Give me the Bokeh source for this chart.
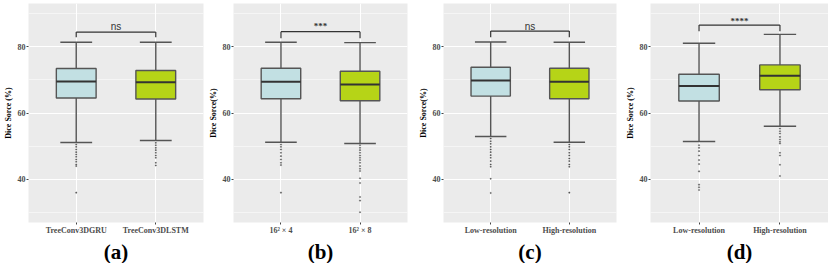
from bokeh.plotting import figure
from bokeh.layouts import row
from bokeh.models import Range1d, FixedTicker, Title
from bokeh.core.properties import value
from bokeh.embed import file_html
from bokeh.resources import INLINE

# ---------------- data ----------------
panel_labels = ["(a)", "(b)", "(c)", "(d)"]
y_titles = ["Dice Sorce (%)", "Dice Sorce(%)", "Dice Sorce(%)", "Dice Sorce (%)"]
cats_a = ["TreeConv3DGRU", "TreeConv3DLSTM"]
cats_b = ["16\u00b2 \u00d7 4", "16\u00b2 \u00d7 8"]
cats_c = ["Low-resolution", "High-resolution"]
cats_d = ["Low-resolution", "High-resolution"]
signif = ["ns", "***", "ns", "****"]

# box stats per panel: [lower whisker, q1, median, q3, upper whisker] for the two groups
stats_a = [[51.1, 64.5, 69.5, 73.4, 81.3], [51.7, 64.2, 69.3, 72.8, 81.3]]
stats_b = [[51.2, 64.3, 69.4, 73.5, 81.3], [50.8, 63.7, 68.6, 72.6, 81.2]]
stats_c = [[52.9, 65.1, 69.8, 73.8, 81.4], [51.2, 64.3, 69.4, 73.5, 81.3]]
stats_d = [[51.4, 63.6, 68.1, 71.7, 81.0], [56.0, 67.0, 71.2, 74.5, 83.7]]

out_a1 = [50.5, 49.8, 49.0, 48.2, 47.5, 46.8, 46.0, 45.3, 44.5, 44.0, 36.0]
out_a2 = [51.0, 50.3, 49.5, 48.8, 48.0, 47.2, 46.5, 45.0, 44.2]
out_b1 = [50.5, 49.8, 49.0, 48.0, 47.0, 46.0, 45.0, 44.3, 36.0]
out_b2 = [50.3, 49.5, 48.8, 48.0, 47.2, 46.5, 45.8, 45.0, 44.0, 43.2, 42.5, 40.3, 38.9, 34.7, 33.6, 30.1]
out_c1 = [52.3, 51.5, 50.7, 49.8, 49.0, 48.2, 47.3, 46.5, 45.5, 44.5, 43.8, 40.2, 35.9]
out_c2 = [50.5, 49.8, 49.0, 48.0, 47.2, 46.3, 45.5, 44.5, 43.8, 36.0]
out_d1 = [50.3, 49.5, 48.5, 47.2, 45.8, 44.6, 42.4, 38.4, 37.6, 36.8]
out_d2 = [55.3, 54.5, 53.8, 52.8, 52.0, 51.3, 50.8, 48.0, 47.2, 44.4, 41.0]

# bracket: [bar level, end level, text level]
bracket_a = [84.4, 82.8, 86.1]
bracket_b = [84.5, 82.5, 86.9]
bracket_c = [84.7, 82.8, 86.0]
bracket_d = [86.5, 84.6, 88.4]

y_ticks = [40, 60, 80]
y_minor = [30, 50, 70, 90]

panels = [
    (cats_a, stats_a, [out_a1, out_a2], bracket_a),
    (cats_b, stats_b, [out_b1, out_b2], bracket_b),
    (cats_c, stats_c, [out_c1, out_c2], bracket_c),
    (cats_d, stats_d, [out_d1, out_d2], bracket_d),
]

widths = [205, 210, 205, 208]
left_borders = [0, 0, 0, 30]
right_borders = [2, 8, 4, 0]
fills = ["#C2E0E3", "#B6D417"]
SERIF = "Liberation Serif"

figs = []
for i, (cats, stats, outs, br) in enumerate(panels):
    p = figure(width=widths[i], height=263, output_backend="svg", toolbar_location=None,
               x_range=Range1d(0.4, 2.6), y_range=Range1d(27, 93),
               min_border_top=3, min_border_right=right_borders[i],
               min_border_left=left_borders[i], min_border_bottom=0)
    p.background_fill_color = "#EBEBEB"
    p.outline_line_color = None

    # grids
    p.xgrid.ticker = FixedTicker(ticks=[1, 2])
    p.xgrid.grid_line_color = "white"
    p.xgrid.grid_line_width = 1
    p.ygrid.ticker = FixedTicker(ticks=y_ticks, minor_ticks=y_minor)
    p.ygrid.grid_line_color = "white"
    p.ygrid.grid_line_width = 1
    p.ygrid.minor_grid_line_color = "white"
    p.ygrid.minor_grid_line_width = 0.5

    # axes
    p.yaxis.ticker = FixedTicker(ticks=y_ticks, minor_ticks=[])
    p.xaxis.ticker = FixedTicker(ticks=[1, 2])
    p.xaxis.major_label_overrides = {1: cats[0], 2: cats[1]}
    for ax in (p.xaxis[0], p.yaxis[0]):
        ax.axis_line_color = None
        ax.major_tick_line_color = "#444444"
        ax.major_tick_out = 2
        ax.major_tick_in = 0
        ax.minor_tick_line_color = None
        ax.major_label_text_font = SERIF
        ax.major_label_text_font_style = "bold"
        ax.major_label_text_font_size = "8px"
        ax.major_label_text_color = "#4D4D4D"
        ax.major_label_standoff = 1
    p.yaxis.axis_label = y_titles[i]
    p.yaxis.axis_label_text_font = SERIF
    p.yaxis.axis_label_text_font_style = "bold"
    p.yaxis.axis_label_text_font_size = "8px"
    p.yaxis.axis_label_text_color = "black"
    p.yaxis.axis_label_standoff = 2

    t = Title(text=panel_labels[i], align="center", text_font=SERIF,
              text_font_style="bold", text_font_size="21px", text_color="black",
              standoff=0, offset=0)
    p.add_layout(t, "below")

    xs = [1, 2]
    lw = [s[0] for s in stats]
    q1 = [s[1] for s in stats]
    md = [s[2] for s in stats]
    q3 = [s[3] for s in stats]
    up = [s[4] for s in stats]

    # whiskers
    p.segment(x0=xs, y0=q3, x1=xs, y1=up, line_color="#555555", line_width=1.4)
    p.segment(x0=xs, y0=lw, x1=xs, y1=q1, line_color="#555555", line_width=1.4)
    # caps
    p.segment(x0=[x - 0.2 for x in xs], y0=up, x1=[x + 0.2 for x in xs], y1=up,
              line_color="#555555", line_width=1.4)
    p.segment(x0=[x - 0.2 for x in xs], y0=lw, x1=[x + 0.2 for x in xs], y1=lw,
              line_color="#555555", line_width=1.4)
    # boxes
    p.vbar(x=xs, width=0.5, bottom=q1, top=q3, fill_color=fills,
           line_color="#555555", line_width=1.4)
    # medians
    p.segment(x0=[x - 0.25 for x in xs], y0=md, x1=[x + 0.25 for x in xs], y1=md,
              line_color="#333333", line_width=2)
    # outliers
    for j in range(2):
        p.scatter(x=[xs[j]] * len(outs[j]), y=outs[j], size=1.6, marker="circle",
                  fill_color="#555555", line_color="#555555", line_width=0.2)

    # significance bracket
    bar, end, ty = br
    p.segment(x0=[1, 1, 2], y0=[end, bar, bar], x1=[1, 2, 2], y1=[bar, bar, end],
              line_color="#333333", line_width=1.2)
    if signif[i] == "ns":
        p.text(x=[1.5], y=[ty], text=[signif[i]], text_align="center",
               text_baseline="middle", text_font=value("Liberation Sans"),
               text_font_size="10px", text_color="#333333")
    else:
        p.text(x=[1.5], y=[ty - 0.6], text=[signif[i]], text_align="center",
               text_baseline="middle", text_font=value(SERIF),
               text_font_size="9px", text_font_style="bold", text_color="#333333")
    figs.append(p)

layout = row(*figs, spacing=0)
open("out.html", "w").write(file_html(layout, INLINE))
